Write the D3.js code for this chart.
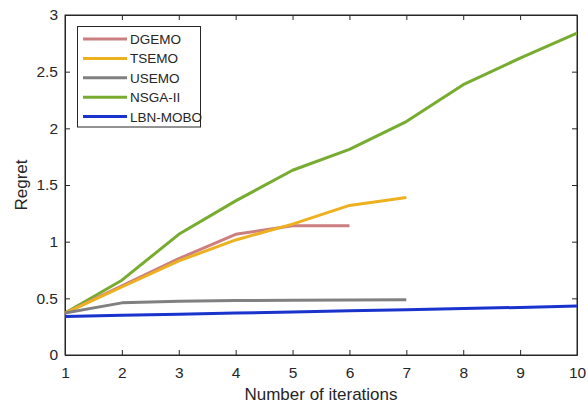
<!DOCTYPE html>
<html><head><meta charset="utf-8">
<script src="https://cdn.jsdelivr.net/npm/d3@7"></script>
<style>body{margin:0;background:#fff}svg{display:block}text{font-family:"Liberation Sans",Arial,sans-serif;fill:#262626}</style>
</head><body><svg id="c" width="588" height="409"></svg>
<script>
const iterations = [1,2,3,4,5,6,7,8,9,10];
const seriesNames = ["DGEMO","TSEMO","USEMO","NSGA-II","LBN-MOBO"];
const dgemo = [0.37,0.61,0.85,1.065,1.14,1.14];
const tsemo = [0.37,0.60,0.83,1.015,1.155,1.32,1.39];
const usemo = [0.37,0.46,0.475,0.48,0.483,0.485,0.487];
const nsga2 = [0.37,0.66,1.065,1.36,1.63,1.815,2.06,2.385,2.62,2.84];
const lbnmobo = [0.34,0.35,0.36,0.37,0.38,0.39,0.40,0.41,0.42,0.432];
const xTicks = [1,2,3,4,5,6,7,8,9,10];
const yTicks = [0,0.5,1,1.5,2,2.5,3];
const colors = ["#cc7f80","#edb120","#808080","#77ac30","#1a33cc"];

const svg = d3.select("#c");
const L=65,R=577,T=15,B=355;
const x = d3.scaleLinear().domain([1,10]).range([L,R]);
const y = d3.scaleLinear().domain([0,3]).range([B,T]);

// box
svg.append("rect").attr("x",L).attr("y",T).attr("width",R-L).attr("height",B-T)
  .attr("fill","#fff").attr("stroke","#262626").attr("stroke-width",1);

const xa = svg.append("g").attr("transform",`translate(0,${B})`)
  .call(d3.axisBottom(x).tickValues(xTicks).tickSizeInner(-5).tickSizeOuter(0).tickPadding(12).tickFormat(d3.format("d")));
const xt = svg.append("g").attr("transform",`translate(0,${T})`)
  .call(d3.axisTop(x).tickValues(xTicks).tickSizeInner(-5).tickSizeOuter(0).tickFormat(""));
const ya = svg.append("g").attr("transform",`translate(${L},0)`)
  .call(d3.axisLeft(y).tickValues(yTicks).tickSizeInner(-5).tickSizeOuter(0).tickPadding(7).tickFormat(d=>d));
const yr = svg.append("g").attr("transform",`translate(${R},0)`)
  .call(d3.axisRight(y).tickValues(yTicks).tickSizeInner(-5).tickSizeOuter(0).tickFormat(""));
[xa,xt,ya,yr].forEach(g=>{
  g.select(".domain").attr("stroke","#262626");
  g.selectAll(".tick line").attr("stroke","#262626");
  g.selectAll(".tick text").attr("font-size",15.5).attr("fill","#262626").attr("font-family","Liberation Sans, Arial, sans-serif");
});

const data = [dgemo,tsemo,usemo,nsga2,lbnmobo];
const line = d3.line().x((d,i)=>x(iterations[i])).y(d=>y(d));
// draw order: NSGA-II, DGEMO, TSEMO, USEMO, LBN
const order = [3,0,1,2,4];
order.forEach(k=>{
  svg.append("path").datum(data[k]).attr("d",line).attr("fill","none")
    .attr("stroke",colors[k]).attr("stroke-width",3).attr("stroke-linejoin","round");
});

svg.append("text").attr("x",(L+R)/2).attr("y",400).attr("text-anchor","middle")
  .attr("font-size",17).text("Number of iterations");
svg.append("text").attr("transform","translate(27,185) rotate(-90)").attr("text-anchor","middle")
  .attr("font-size",17).text("Regret");

// legend
const lg = svg.append("g");
lg.append("rect").attr("x",77.5).attr("y",26.5).attr("width",123).attr("height",100.5)
  .attr("fill","#fff").attr("stroke","#262626").attr("stroke-width",1);
seriesNames.forEach((n,i)=>{
  const yy = 39 + i*19.4;
  lg.append("line").attr("x1",83).attr("x2",127).attr("y1",yy).attr("y2",yy)
    .attr("stroke",colors[i]).attr("stroke-width",3);
  lg.append("text").attr("x",130).attr("y",yy+5).attr("font-size",13.5).text(n);
});
</script></body></html>
